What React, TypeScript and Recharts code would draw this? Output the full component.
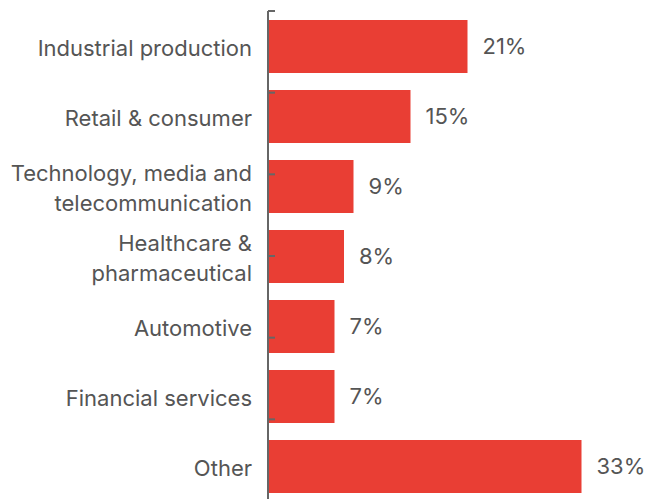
import React from "react";
import { BarChart, Bar, XAxis, YAxis, LabelList } from "recharts";

const categories = [
  "Industrial production",
  "Retail & consumer",
  "Technology, media and\ntelecommunication",
  "Healthcare &\npharmaceutical",
  "Automotive",
  "Financial services",
  "Other",
];
const shares = [21, 15, 9, 8, 7, 7, 33];
const boundaryTicks = [0, 1, 2, 3, 4, 5, 6, 7];

const data = categories.map((c, i) => ({ name: c, value: shares[i] }));

const FONT = "Inter, 'Liberation Sans', sans-serif";
const TEXT = "#555555";

const CategoryTick = (props: any) => {
  const { x, y, payload } = props;
  const lines = String(payload.value).split("\n");
  const step = 30;
  const start = -((lines.length - 1) * step) / 2;
  return (
    <g>
      {lines.map((ln, i) => (
        <text
          key={i}
          x={x}
          y={y + start + i * step + 10}
          textAnchor="end"
          fontSize={22}
          fontFamily={FONT}
          fill={TEXT}
        >
          {ln}
        </text>
      ))}
    </g>
  );
};

export default function App() {
  return (
    <div style={{ position: "fixed", left: 0, top: 0, width: 661, height: 499, overflow: "hidden", background: "#fff" }}>
      <BarChart
        width={661}
        height={510}
        data={data}
        layout="vertical"
        margin={{ top: 11, right: 13, bottom: 9, left: 0 }}
      >
        <XAxis type="number" domain={[0, 40]} hide />
        <YAxis
          type="category"
          dataKey="name"
          width={268}
          axisLine={{ stroke: "#666666", strokeWidth: 2 }}
          tickLine={false}
          tickMargin={10}
          tick={<CategoryTick />}
          interval={0}
        />
        <YAxis
          yAxisId="grid"
          type="number"
          domain={[0, 7]}
          ticks={boundaryTicks}
          mirror
          axisLine={false}
          tickSize={7}
          tickLine={{ stroke: "#666666", strokeWidth: 2 }}
          tickFormatter={() => ""}
          interval={0}
        />
        <Bar dataKey="value" fill="#E93E34" barSize={53} isAnimationActive={false}>
          <LabelList
            dataKey="value"
            position="right"
            offset={15}
            formatter={(v: any) => `${v}%`}
            style={{ fontSize: 22, fontFamily: FONT, fill: TEXT }}
          />
        </Bar>
      </BarChart>
    </div>
  );
}
